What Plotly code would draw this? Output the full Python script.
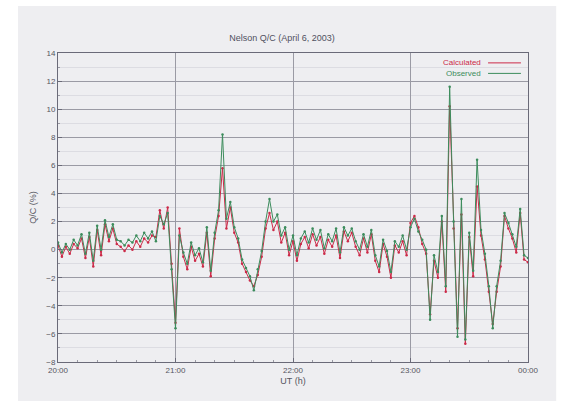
import plotly.graph_objects as go

# Time axis: minutes after 20:00 UT, sampled every 2 minutes
minutes = list(range(0, 241, 2))

calculated = [
    0.3, -0.5, 0.2, -0.3, 0.4, 0.1, 0.8, -0.6, 0.9, -1.2,
    1.4, -0.4, 1.8, 0.6, 1.5, 0.4, 0.2, -0.1, 0.3, 0.0,
    0.6, 0.2, 0.8, 0.5, 1.0, 0.9, 2.8, 1.5, 3.0, -1.0,
    -5.2, 1.5, -0.5, -1.4, 0.2, -0.8, -0.3, -1.2, 1.2, -1.9,
    0.8, 2.4, 5.8, 1.5, 3.0, 1.2, 0.5, -1.0, -1.6, -2.2,
    -2.6, -1.8, -0.5, 1.5, 2.6, 1.4, 2.0, 0.5, 1.2, -0.4,
    0.6, -0.8, 0.4, 0.9, 0.1, 1.1, 0.3, 0.9, -0.3, 0.7,
    0.2, 1.0, -0.6, 1.3, 0.6, 1.2, 0.2, -0.4, 0.8, -0.2,
    1.1, -0.8, -1.6, 0.4, -0.5, -2.0, 0.3, -0.2, 0.6, -0.4,
    1.9, 2.4, 1.6, 0.4, -0.3, -4.6, -0.8, -2.0, 2.0, -3.0,
    10.2, 1.5, -5.6, 2.5, -6.7, 0.9, -1.9, 4.5, 1.0, -0.7,
    -3.0, -5.3, -3.0, -1.2, 2.4, 1.5, 0.8, -0.2, 2.6, -0.7,
    -0.9,
]

observed = [
    0.5, -0.2, 0.4, 0.0, 0.7, 0.3, 1.1, -0.3, 1.2, -0.8,
    1.7, 0.0, 2.1, 0.9, 1.8, 0.7, 0.6, 0.3, 0.7, 0.5,
    1.0, 0.6, 1.2, 0.8, 1.3, 0.6, 2.4, 1.8, 2.6, -1.4,
    -5.6, 1.0, -0.2, -1.0, 0.5, -0.4, 0.1, -0.9, 1.6, -1.5,
    1.2, 2.8, 8.2, 2.2, 3.4, 1.6, 0.8, -0.7, -1.3, -1.9,
    -2.9, -1.4, -0.1, 2.0, 3.6, 2.0, 2.5, 1.0, 1.6, 0.0,
    1.0, -0.4, 0.8, 1.3, 0.5, 1.5, 0.7, 1.4, 0.1, 1.1,
    0.6, 1.5, -0.2, 1.6, 1.0, 1.5, 0.6, 0.0, 1.1, 0.2,
    1.4, -0.4, -1.2, 0.7, -0.1, -1.6, 0.6, 0.2, 1.0, 0.0,
    1.6, 2.2, 1.3, 0.7, 0.0, -5.0, -0.4, -1.6, 2.4, -2.6,
    11.6, 2.0, -6.2, 3.6, -6.4, 1.2, -1.5, 6.4, 1.4, -0.3,
    -2.6, -5.6, -2.6, -0.8, 2.6, 1.9, 1.1, 0.2, 2.9, -0.4,
    -0.6,
]

hour_ticks = [20, 21, 22, 23, 24]
hour_labels = ["20:00", "21:00", "22:00", "23:00", "00:00"]
y_ticks = [-8, -6, -4, -2, 0, 2, 4, 6, 8, 10, 12, 14]

hours = [20 + m / 60 for m in minutes]

RED = "#cc2a48"
GREEN = "#3c8c5c"
BG = "#eeeef1"
FONT = "Liberation Sans"

series = [("Calculated", calculated, RED), ("Observed", observed, GREEN)]

fig = go.Figure()
for name, values, color in series:
    fig.add_trace(go.Scatter(
        x=hours, y=values, name=name, mode="lines+markers",
        line=dict(color=color, width=1), marker=dict(color=color, size=2.5),
    ))

# key in the upper right: label first, then a short line sample
for k, (name, _, color) in enumerate(series):
    ypos = 0.968 - k * 0.034
    fig.add_annotation(xref="paper", yref="paper", x=0.905, y=ypos,
                       text=name, showarrow=False, xanchor="right",
                       yanchor="middle", font=dict(size=8, color=color))
    fig.add_shape(type="line", xref="paper", yref="paper",
                  x0=0.915, x1=0.985, y0=ypos, y1=ypos,
                  line=dict(color=color, width=1))

# light grey panel behind everything, white margin around it
fig.add_shape(type="rect", xref="paper", yref="paper",
              x0=-0.085, x1=1.06, y0=-0.135, y1=1.152,
              fillcolor=BG, line=dict(width=0), layer="below")

fig.update_layout(
    width=564, height=401,
    margin=dict(l=58, r=36, t=53, b=39),
    paper_bgcolor="white", plot_bgcolor=BG,
    font=dict(family=FONT, size=8, color="#555560"),
    title=dict(text="Nelson Q/C (April 6, 2003)", x=0.5, xanchor="center",
               y=0.905, yanchor="middle", font=dict(size=9, color="#505060")),
    showlegend=False,
)
fig.update_xaxes(
    range=[20, 24], tickvals=hour_ticks, ticktext=hour_labels,
    showgrid=True, gridcolor="#9a9aa4", gridwidth=1,
    showline=True, linecolor="#6a6a78", linewidth=1, mirror=True,
    ticks="inside", ticklen=4, tickcolor="#6a6a78",
    minor=dict(ticks="inside", ticklen=2, dtick=1 / 6, tickcolor="#9a9aa4", showgrid=False),
    zeroline=False,
    title=dict(text="UT (h)", standoff=4, font=dict(size=9)),
)
fig.update_yaxes(
    range=[-8, 14], tickvals=y_ticks,
    showgrid=True, gridcolor="#9a9aa4", gridwidth=1,
    showline=True, linecolor="#6a6a78", linewidth=1, mirror=True,
    ticks="inside", ticklen=4, tickcolor="#6a6a78",
    minor=dict(ticks="inside", ticklen=2, dtick=1, tickcolor="#9a9aa4",
               showgrid=True, gridcolor="#dcdce2"),
    zeroline=False,
    title=dict(text="Q/C (%)", standoff=8, font=dict(size=9)),
)

fig.write_html("out.html")
